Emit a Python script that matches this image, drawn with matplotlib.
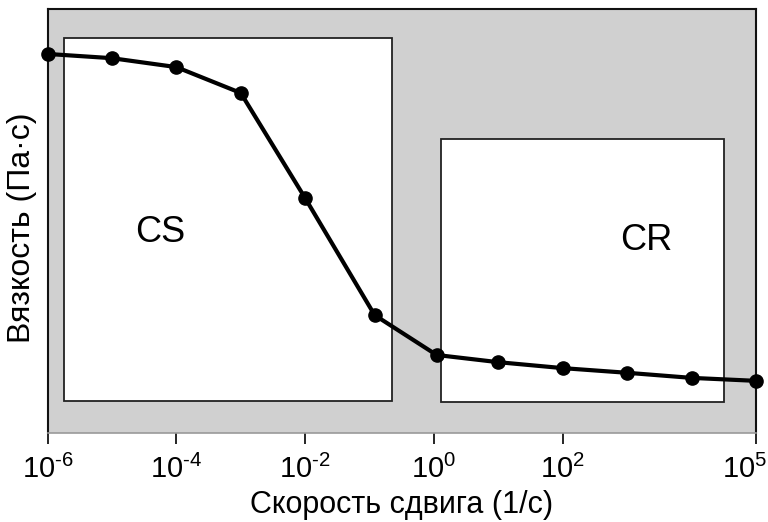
import matplotlib
matplotlib.use("Agg")
import matplotlib.pyplot as plt
from matplotlib.patches import Rectangle
from matplotlib.transforms import ScaledTranslation

plt.rcParams['font.family'] = ['Liberation Sans', 'DejaVu Sans']
plt.rcParams['mathtext.fontset'] = 'custom'
plt.rcParams['mathtext.rm'] = 'Liberation Sans'
plt.rcParams['mathtext.it'] = 'Liberation Sans:italic'
plt.rcParams['mathtext.bf'] = 'Liberation Sans:bold'

shear_rate = [1e-6, 1e-5, 1e-4, 1e-3, 1e-2, 1.2e-1, 1.1e0, 1e1, 1e2, 1e3, 1e4, 1e5]
viscosity = [89.4, 88.4, 86.3, 80.2, 55.4, 27.8, 18.4, 16.7, 15.3, 14.2, 13.0, 12.3]

regions = ["CS", "CR"]
region_x = [(10**-5.74, 10**-0.65), (10**0.108, 10**4.51)]
region_y = [(7.5, 93.2), (7.3, 69.3)]
label_pos = [(10**-4.25, 47.4), (10**3.3, 45.5)]

xticks = [1e-6, 1e-4, 1e-2, 1e0, 1e2, 1e5]
xticklabels = [r'$\mathregular{10^{\text{-}6}}$', r'$\mathregular{10^{\text{-}4}}$',
               r'$\mathregular{10^{\text{-}2}}$', r'$\mathregular{10^{0}}$',
               r'$\mathregular{10^{2}}$', r'$\mathregular{10^{5}}$']

fig = plt.figure(figsize=(7.68, 5.22), dpi=100)
ax = fig.add_axes([47.5/768, 1-433/522, (756-47.5)/768, (433-9)/522])
ax.set_facecolor('#d0d0d0')
ax.set_xscale('log')
ax.set_xlim(1e-6, 1e5)
ax.set_ylim(0, 100)

for name, (x0, x1), (y0, y1), (lx, ly) in zip(regions, region_x, region_y, label_pos):
    ax.add_patch(Rectangle((x0, y0), x1 - x0, y1 - y0, facecolor='white',
                           edgecolor='#222222', linewidth=1.3, zorder=1))
    ax.text(lx, ly, name, fontsize=26, ha='center', va='center', zorder=2)

ax.plot(shear_rate, viscosity, color='black', linewidth=3, marker='o',
        markersize=9.5, zorder=3, clip_on=False)

ax.set_xticks(xticks)
ax.set_xticklabels(xticklabels)
ax.xaxis.set_minor_locator(matplotlib.ticker.NullLocator())
ax.set_yticks([])
ax.tick_params(axis='x', direction='out', length=8, width=1.2, labelsize=21, pad=8,
               colors='black')
last = ax.get_xticklabels()[-1]
last.set_transform(last.get_transform() + ScaledTranslation(-11/100, 0, fig.dpi_scale_trans))

for s in ['top', 'left', 'right']:
    ax.spines[s].set_linewidth(1.5)
    ax.spines[s].set_color('#111111')
ax.spines['bottom'].set_color('#999999')
ax.spines['bottom'].set_linewidth(1.2)

ax.set_xlabel('Скорость сдвига (1/с)', fontsize=22, labelpad=4)
ax.set_ylabel('Вязкость (Па·с)', fontsize=23)
ax.yaxis.set_label_coords(-10.5/708.5, 0.5 - 7/424)

fig.savefig('out.png', dpi=100)
